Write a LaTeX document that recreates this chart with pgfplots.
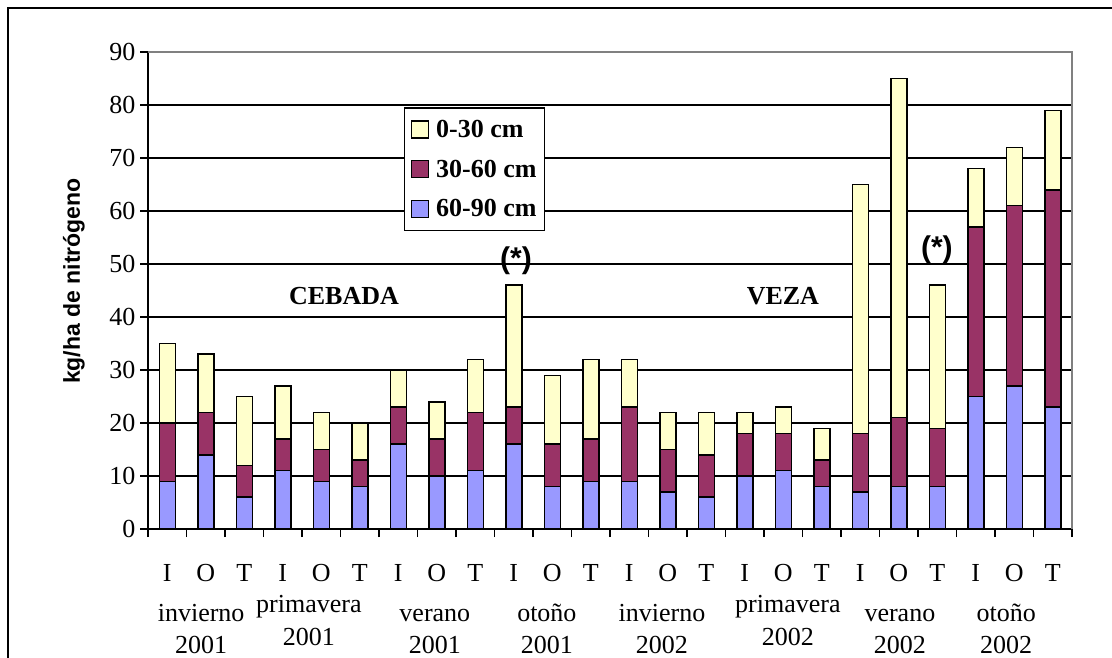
\documentclass[border=0pt]{standalone}
\usepackage{fontspec}
\setmainfont{Liberation Serif}
\newfontfamily\arialbold{Liberation Sans}[BoldFont={* Bold}]
\usepackage{pgfplots}
\pgfplotsset{compat=1.18}

\definecolor{capaA}{HTML}{FFFFCC}% 0-30 cm
\definecolor{capaB}{HTML}{993366}% 30-60 cm
\definecolor{capaC}{HTML}{9999FF}% 60-90 cm
\definecolor{bordegris}{HTML}{808080}

\newcommand{\lbl}{\fontsize{26}{31}\selectfont}

\begin{document}
\begin{tikzpicture}[x=1pt,y=1pt]
\path[use as bounding box] (0,0) rectangle (1112,657);
% outer frame (left and top edges)
\draw[line width=2pt] (8,-20) -- (8,649) -- (1130,649);

\begin{axis}[
  at={(148pt,128pt)}, anchor=south west,
  scale only axis, width=924pt, height=477pt,
  xmin=-0.5, xmax=23.5, ymin=0, ymax=90,
  ybar stacked, bar width=16pt,
  clip=false,
  axis x line*=bottom, axis y line*=left,
  axis line style={black, line width=2pt},
  xtick={-0.5,0.5,...,23.5},
  x tick label as interval,
  xticklabels={I,O,T,I,O,T,I,O,T,I,O,T,I,O,T,I,O,T,I,O,T,I,O,T},
  ytick={0,10,...,90},
  tick align=outside, major tick length=8pt,
  tick style={black, line width=1.5pt},
  ymajorgrids, grid style={black, line width=1.3pt},
  /pgf/number format/assume math mode=true,
  ticklabel style={font=\lbl},
  xticklabel style={anchor=base, yshift=-44pt},
  yticklabel style={xshift=-1pt},
  every axis plot/.append style={draw=black, line width=1.5pt},
  reverse legend,
  legend cell align=left,
  legend style={at={(0.277,0.884)}, anchor=north west,
    draw=black, line width=1.5pt, fill=white,
    font=\bfseries\lbl, row sep=17pt, inner xsep=6pt, inner ysep=10pt},
  sqlegend/.style={legend image code/.code={
    \draw[##1, line width=1.3pt] (0pt,-8.5pt) rectangle (17pt,8.5pt);
    \path (22pt,0pt);}},
]
% 60-90 cm
\addplot[fill=capaC, sqlegend] coordinates {
(0,9) (1,14) (2,6) (3,11) (4,9) (5,8) (6,16) (7,10) (8,11) (9,16) (10,8) (11,9)
(12,9) (13,7) (14,6) (15,10) (16,11) (17,8) (18,7) (19,8) (20,8) (21,25) (22,27) (23,23)};
\addlegendentry{60-90 cm}
% 30-60 cm
\addplot[fill=capaB, sqlegend] coordinates {
(0,11) (1,8) (2,6) (3,6) (4,6) (5,5) (6,7) (7,7) (8,11) (9,7) (10,8) (11,8)
(12,14) (13,8) (14,8) (15,8) (16,7) (17,5) (18,11) (19,13) (20,11) (21,32) (22,34) (23,41)};
\addlegendentry{30-60 cm}
% 0-30 cm
\addplot[fill=capaA, sqlegend] coordinates {
(0,15) (1,11) (2,13) (3,10) (4,7) (5,7) (6,7) (7,7) (8,10) (9,23) (10,13) (11,15)
(12,9) (13,7) (14,8) (15,4) (16,5) (17,6) (18,47) (19,64) (20,27) (21,11) (22,11) (23,15)};
\addlegendentry{0-30 cm}

% plot area border, top and right
\draw[bordegris, line width=2pt] (rel axis cs:0,1) -- (rel axis cs:1,1) -- (rel axis cs:1,0);

% crop labels
\node[font=\bfseries\lbl] at (axis cs:4.59,43.96) {CEBADA};
\node[font=\bfseries\lbl] at (axis cs:15.99,43.96) {VEZA};
\node[font=\arialbold\bfseries\fontsize{30}{34}\selectfont] at (axis cs:9.06,50.6) {(*)};
\node[font=\arialbold\bfseries\fontsize{30}{34}\selectfont] at (axis cs:19.99,52.6) {(*)};

% season / year labels
\node[font=\lbl, anchor=base] at ([yshift=-92pt]axis cs:0.88,0) {invierno};
\node[font=\lbl, anchor=base] at ([yshift=-124pt]axis cs:0.88,0) {2001};
\node[font=\lbl, anchor=base] at ([yshift=-83pt]axis cs:3.68,0) {primavera};
\node[font=\lbl, anchor=base] at ([yshift=-116pt]axis cs:3.68,0) {2001};
\node[font=\lbl, anchor=base] at ([yshift=-92pt]axis cs:6.95,0) {verano};
\node[font=\lbl, anchor=base] at ([yshift=-124pt]axis cs:6.95,0) {2001};
\node[font=\lbl, anchor=base] at ([yshift=-92pt]axis cs:9.86,0) {otoño};
\node[font=\lbl, anchor=base] at ([yshift=-124pt]axis cs:9.86,0) {2001};
\node[font=\lbl, anchor=base] at ([yshift=-92pt]axis cs:12.85,0) {invierno};
\node[font=\lbl, anchor=base] at ([yshift=-124pt]axis cs:12.85,0) {2002};
\node[font=\lbl, anchor=base] at ([yshift=-83pt]axis cs:16.12,0) {primavera};
\node[font=\lbl, anchor=base] at ([yshift=-116pt]axis cs:16.12,0) {2002};
\node[font=\lbl, anchor=base] at ([yshift=-92pt]axis cs:19.03,0) {verano};
\node[font=\lbl, anchor=base] at ([yshift=-124pt]axis cs:19.03,0) {2002};
\node[font=\lbl, anchor=base] at ([yshift=-92pt]axis cs:21.79,0) {otoño};
\node[font=\lbl, anchor=base] at ([yshift=-124pt]axis cs:21.79,0) {2002};
\end{axis}

\node[rotate=90, font=\arialbold\bfseries\fontsize{23}{27}\selectfont] at (74,376) {kg/ha de nitrógeno};
\end{tikzpicture}
\end{document}
